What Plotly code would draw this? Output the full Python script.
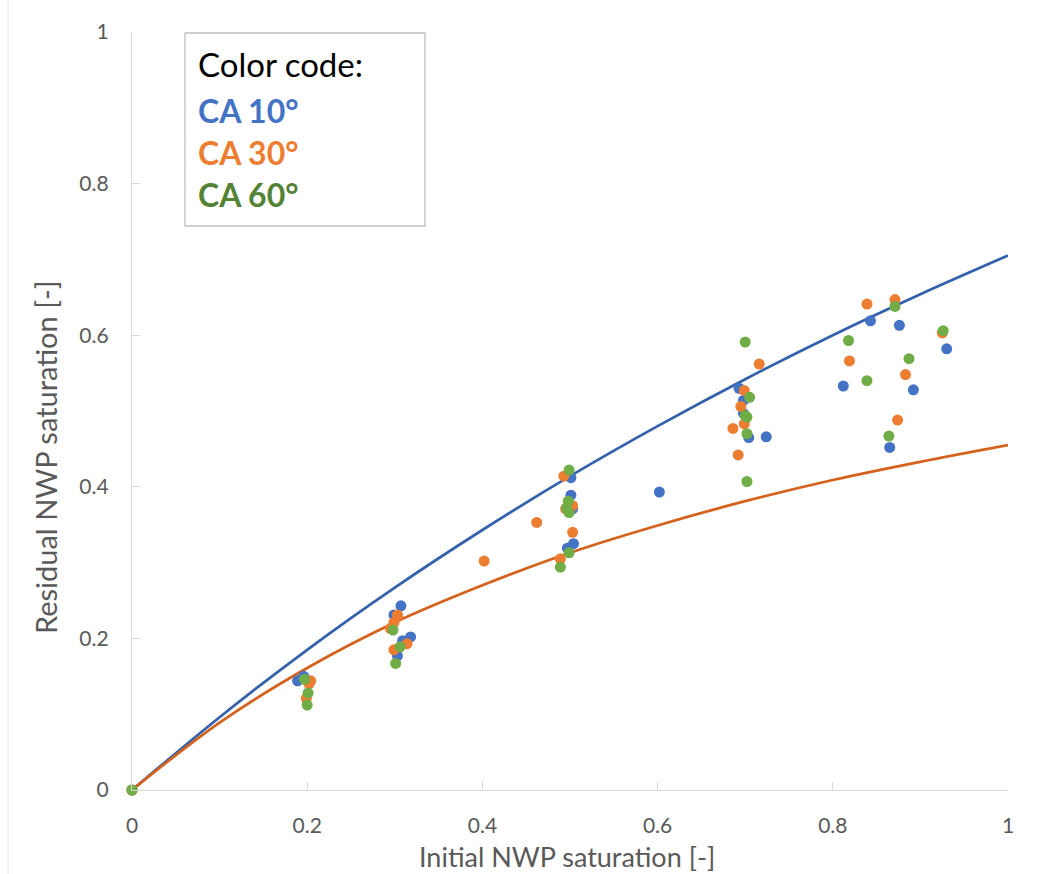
import plotly.graph_objects as go

# --- data ---
ca10_x = [0, 0.189, 0.196, 0.201, 0.307, 0.299, 0.318, 0.309, 0.303, 0.501, 0.501, 0.503, 0.504, 0.497,
          0.602, 0.693, 0.698, 0.698, 0.704, 0.724, 0.812, 0.843, 0.876, 0.930, 0.892, 0.865]
ca10_y = [0, 0.144, 0.150, 0.144, 0.243, 0.231, 0.202, 0.197, 0.177, 0.412, 0.389, 0.371, 0.325, 0.319,
          0.393, 0.530, 0.514, 0.497, 0.465, 0.466, 0.533, 0.619, 0.613, 0.582, 0.528, 0.452]

ca30_x = [0, 0.204, 0.202, 0.199, 0.303, 0.303, 0.299, 0.295, 0.314, 0.299, 0.402, 0.462, 0.493, 0.503,
          0.495, 0.503, 0.489, 0.716, 0.699, 0.695, 0.699, 0.686, 0.692, 0.839, 0.871, 0.925, 0.819,
          0.883, 0.874]
ca30_y = [0, 0.144, 0.140, 0.121, 0.231, 0.229, 0.221, 0.213, 0.193, 0.185, 0.302, 0.353, 0.414, 0.375,
          0.371, 0.340, 0.305, 0.562, 0.527, 0.506, 0.483, 0.477, 0.442, 0.641, 0.647, 0.603, 0.566,
          0.548, 0.488]

ca60_x = [0, 0.197, 0.201, 0.200, 0.298, 0.306, 0.301, 0.499, 0.498, 0.496, 0.499, 0.499, 0.489,
          0.700, 0.705, 0.702, 0.700, 0.702, 0.702, 0.871, 0.926, 0.818, 0.887, 0.839, 0.864]
ca60_y = [0, 0.146, 0.128, 0.112, 0.211, 0.189, 0.167, 0.422, 0.381, 0.372, 0.366, 0.313, 0.294,
          0.591, 0.518, 0.492, 0.494, 0.470, 0.407, 0.638, 0.606, 0.593, 0.569, 0.540, 0.467]

curve_x = [0, 0.1, 0.2, 0.3, 0.4, 0.5, 0.6, 0.7, 0.8, 0.9, 1.0]
curve10_y = [0, 0.096, 0.185, 0.267, 0.343, 0.414, 0.480, 0.542, 0.600, 0.654, 0.705]
curve30_y = [0, 0.089, 0.161, 0.221, 0.270, 0.313, 0.349, 0.381, 0.409, 0.433, 0.455]

tick_vals = [0, 0.2, 0.4, 0.6, 0.8, 1]
tick_text = ["0", "0.2", "0.4", "0.6", "0.8", "1"]
legend_title = "Color code:"
legend_labels = ["CA 10°", "CA 30°", "CA 60°"]

FONT = "Lato"
AX = "#D9D9D9"
TXT = "#595959"

fig = go.Figure()
fig.add_trace(go.Scatter(x=curve_x, y=curve10_y, mode="lines", line=dict(color="#3461AC", width=2.75, shape="spline"), hoverinfo="skip"))
fig.add_trace(go.Scatter(x=curve_x, y=curve30_y, mode="lines", line=dict(color="#D5621C", width=2.75, shape="spline"), hoverinfo="skip"))
for xs, ys, c in [(ca10_x, ca10_y, "#4472C4"), (ca30_x, ca30_y, "#ED7D31"), (ca60_x, ca60_y, "#70AD47")]:
    fig.add_trace(go.Scatter(x=xs, y=ys, mode="markers", cliponaxis=False,
                             marker=dict(color=c, size=11, line=dict(width=0))))

axis_common = dict(
    range=[0, 1], tickvals=tick_vals, ticktext=tick_text, showgrid=False, zeroline=False,
    showline=True, linecolor=AX, linewidth=1.3, ticks="inside", ticklen=8, tickcolor=AX, tickwidth=1.3,
    tickfont=dict(family=FONT, size=21, color=TXT), fixedrange=True,
)
fig.update_xaxes(**axis_common, ticklabelstandoff=17)
fig.update_yaxes(**axis_common, ticklabelstandoff=18)

fig.update_layout(
    width=1059, height=874, margin=dict(l=132, r=51, t=32, b=84, autoexpand=False),
    plot_bgcolor="white", paper_bgcolor="white", showlegend=False,
    font=dict(family=FONT),
)

fig.add_annotation(xref="paper", yref="paper", x=0.497, y=(790 - 856) / 758, text="Initial NWP saturation [-]",
                   showarrow=False, font=dict(family=FONT, size=27, color=TXT), xanchor="center", yanchor="middle")
fig.add_annotation(xref="paper", yref="paper", x=(45 - 132) / 876, y=(790 - 457) / 758, text="Residual NWP saturation [-]",
                   showarrow=False, font=dict(family=FONT, size=29, color=TXT), textangle=-90, xanchor="center", yanchor="middle")

# legend box
fig.add_shape(type="rect", xref="paper", yref="paper", x0=(185 - 132) / 876, x1=(425 - 132) / 876,
              y0=(790 - 226) / 758, y1=(790 - 33) / 758, line=dict(color="#BFBFBF", width=1.3), fillcolor="white", layer="above")
fig.add_annotation(xref="paper", yref="paper", x=(196 - 132) / 876, y=(790 - 64) / 758, text=legend_title,
                   showarrow=False, font=dict(family=FONT, size=33, color="black"), xanchor="left", yanchor="middle")
for i, (lab, c) in enumerate(zip(legend_labels, ["#4472C4", "#ED7D31", "#548235"])):
    fig.add_annotation(xref="paper", yref="paper", x=(196 - 132) / 876, y=(790 - (110 + 42 * i)) / 758,
                       text="<b>" + lab + "</b>", showarrow=False,
                       font=dict(family=FONT, size=32, color=c), xanchor="left", yanchor="middle")

# faint outer chart frame at left
fig.add_shape(type="line", xref="paper", yref="paper", x0=(8 - 132) / 876, x1=(8 - 132) / 876,
              y0=-84 / 758, y1=(790) / 758, line=dict(color="#E6E6E6", width=1))

fig.write_html("out.html")
